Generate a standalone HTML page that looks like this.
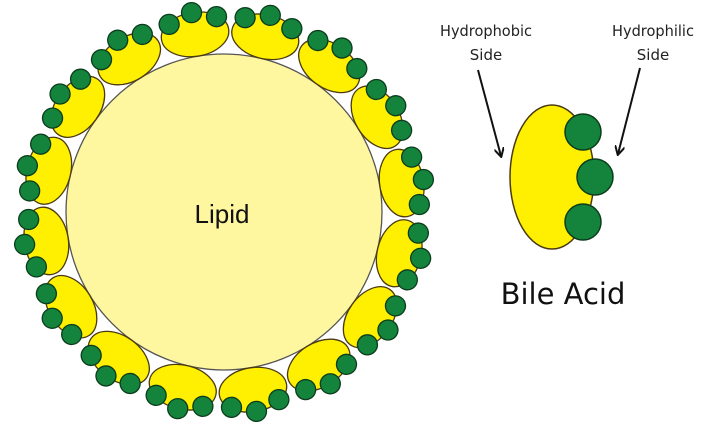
<!DOCTYPE html>
<html><head><style>html,body{margin:0;padding:0;background:#fff;}svg{display:block}</style></head>
<body>
<svg width="720" height="425" viewBox="0 0 720 425" xmlns="http://www.w3.org/2000/svg">
<defs>
<g id="u">
<ellipse cx="0" cy="0" rx="22" ry="34" fill="#ffef00" stroke="#4a3a10" stroke-width="1.3"/>
<circle cx="14" cy="-24" r="10" fill="#14833c" stroke="#0b3d1c" stroke-width="1.3"/>
<circle cx="22" cy="0" r="10" fill="#14833c" stroke="#0b3d1c" stroke-width="1.3"/>
<circle cx="14" cy="24" r="10" fill="#14833c" stroke="#0b3d1c" stroke-width="1.3"/>
</g>
<marker id="ah" markerWidth="10" markerHeight="10" refX="8" refY="5" orient="auto" markerUnits="userSpaceOnUse">
<path d="M0,0 L9,5 L0,10" fill="none" stroke="#111" stroke-width="2"/>
</marker>
</defs>
<circle cx="224" cy="212" r="158" fill="#fff6a0" stroke="#555" stroke-width="1.3"/>
<g transform="translate(224,212)">
<g transform="rotate(103.25) translate(180,0)"><use href="#u"/></g>
<g transform="rotate(125.75) translate(180,0)"><use href="#u"/></g>
<g transform="rotate(148.25) translate(180,0)"><use href="#u"/></g>
<g transform="rotate(170.75) translate(180,0)"><use href="#u"/></g>
<g transform="rotate(193.25) translate(180,0)"><use href="#u"/></g>
<g transform="rotate(215.75) translate(180,0)"><use href="#u"/></g>
<g transform="rotate(238.25) translate(180,0)"><use href="#u"/></g>
<g transform="rotate(260.75) translate(180,0)"><use href="#u"/></g>
<g transform="rotate(283.25) translate(180,0)"><use href="#u"/></g>
<g transform="rotate(305.75) translate(180,0)"><use href="#u"/></g>
<g transform="rotate(328.25) translate(180,0)"><use href="#u"/></g>
<g transform="rotate(350.75) translate(180,0)"><use href="#u"/></g>
<g transform="rotate(13.25) translate(180,0)"><use href="#u"/></g>
<g transform="rotate(35.75) translate(180,0)"><use href="#u"/></g>
<g transform="rotate(58.25) translate(180,0)"><use href="#u"/></g>
<g transform="rotate(80.75) translate(180,0)"><use href="#u"/></g>
</g>
<text x="222" y="223" font-family="Liberation Sans, DejaVu Sans, sans-serif" font-size="26" text-anchor="middle" fill="#111">Lipid</text>

<ellipse cx="552" cy="177" rx="42" ry="72" fill="#ffef00" stroke="#4a3a10" stroke-width="1.5"/>
<circle cx="583" cy="132" r="18" fill="#14833c" stroke="#0b3d1c" stroke-width="1.5"/>
<circle cx="595" cy="177" r="18" fill="#14833c" stroke="#0b3d1c" stroke-width="1.5"/>
<circle cx="583" cy="222" r="18" fill="#14833c" stroke="#0b3d1c" stroke-width="1.5"/>

<g font-family="DejaVu Sans, Liberation Sans, sans-serif" font-size="15" fill="#222" text-anchor="middle">
<text x="486" y="36" textLength="92" lengthAdjust="spacingAndGlyphs">Hydrophobic</text>
<text x="486" y="60">Side</text>
<text x="653" y="36" textLength="82" lengthAdjust="spacingAndGlyphs">Hydrophilic</text>
<text x="653" y="60">Side</text>
</g>
<line x1="478" y1="70" x2="501" y2="156" stroke="#111" stroke-width="2" marker-end="url(#ah)"/>
<line x1="640" y1="68" x2="618" y2="154" stroke="#111" stroke-width="2" marker-end="url(#ah)"/>
<text x="563" y="304" font-family="DejaVu Sans, Liberation Sans, sans-serif" font-size="29" text-anchor="middle" fill="#111">Bile Acid</text>
</svg>
</body></html>
